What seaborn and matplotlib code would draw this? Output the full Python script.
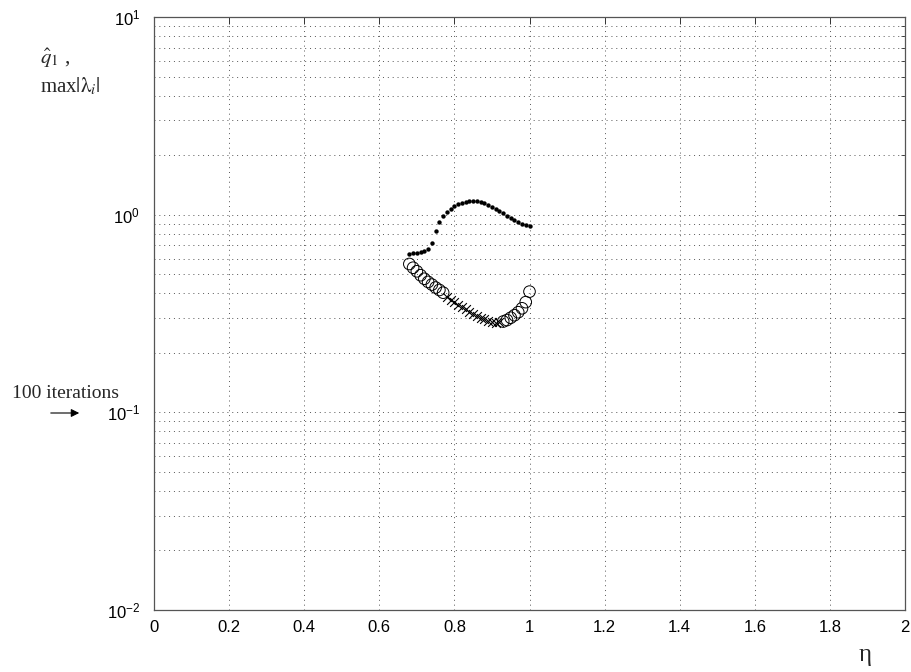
import numpy as np
import pandas as pd
import seaborn as sns
import matplotlib.pyplot as plt

# eta axis (step 0.01)
eta = np.round(np.arange(0.68, 1.0001, 0.01), 2)

# upper curve: max|lambda_i| (small filled dots)
lam_max = [0.632, 0.638, 0.643, 0.647, 0.655, 0.668, 0.716, 0.828, 0.914, 0.984,
           1.032, 1.064, 1.106, 1.132, 1.150, 1.164, 1.172, 1.172, 1.168, 1.155,
           1.142, 1.124, 1.097, 1.072, 1.044, 1.016, 0.989, 0.959, 0.937, 0.914,
           0.900, 0.887, 0.875]

# lower curve: q1 hat (circles / crosses = 100 iterations reached)
q1 = [0.563, 0.539, 0.517, 0.494, 0.474, 0.457, 0.443, 0.428, 0.416, 0.403,
      0.385, 0.370, 0.360, 0.351, 0.341, 0.332, 0.323, 0.316, 0.308, 0.301,
      0.296, 0.290, 0.285, 0.284, 0.285, 0.288, 0.293, 0.301, 0.310, 0.321,
      0.336, 0.361, 0.408]
q1_kind = ["o"] * 10 + ["x"] * 15 + ["o"] * 8

xticks = [0, 0.2, 0.4, 0.6, 0.8, 1, 1.2, 1.4, 1.6, 1.8, 2]
xtick_labels = ["0", "0.2", "0.4", "0.6", "0.8", "1", "1.2", "1.4", "1.6", "1.8", "2"]
yticks = [1e-2, 1e-1, 1e0, 1e1]
ytick_labels = [r"$\mathregular{10^{-2}}$", r"$\mathregular{10^{-1}}$",
                r"$\mathregular{10^{0}}$", r"$\mathregular{10^{1}}$"]

df_top = pd.DataFrame({"eta": eta, "val": lam_max})
df_low = pd.DataFrame({"eta": eta, "val": q1, "kind": q1_kind})

sns.set_theme(style="white")
plt.rcParams["font.family"] = ["Liberation Sans", "DejaVu Sans"]
plt.rcParams["mathtext.fontset"] = "stix"

fig = plt.figure(figsize=(9.11, 6.72), dpi=100)
ax = fig.add_axes([154 / 911, 1 - 610 / 672, 751 / 911, 593 / 672])

sns.scatterplot(data=df_top, x="eta", y="val", ax=ax, marker="o", s=10,
                color="black", edgecolor="black", linewidth=0, legend=False, zorder=3)
circ = df_low[df_low["kind"] == "o"]
cross = df_low[df_low["kind"] == "x"]
ax.scatter(circ["eta"], circ["val"], marker="o", s=70, facecolors="none",
           edgecolors="black", linewidths=0.7, zorder=3)
sns.scatterplot(data=cross, x="eta", y="val", ax=ax, marker="x", s=40,
                color="black", edgecolor="black", linewidth=0.8, legend=False, zorder=3)

ax.set_yscale("log")
ax.set_xlim(0, 2)
ax.set_ylim(1e-2, 1e1)
ax.set_xticks(xticks)
ax.set_xticklabels(xtick_labels)
ax.set_yticks(yticks)
ax.set_yticklabels(ytick_labels)
ax.set_xlabel("")
ax.set_ylabel("")
ax.tick_params(axis="both", which="both", direction="in", top=True, right=True,
               labelsize=12, colors="#333333", labelcolor="black")
ax.tick_params(axis="both", which="major", length=5, width=0.7)
ax.tick_params(axis="x", which="major", pad=7)
ax.tick_params(axis="y", which="major", pad=10)
ax.tick_params(axis="y", which="minor", length=3, width=0.6)
ax.grid(True, which="major", axis="x", linestyle=(0, (1, 4)), color="#555555", linewidth=0.7)
ax.grid(True, which="both", axis="y", linestyle=(0, (1, 4)), color="#555555", linewidth=0.7)
for sp in ax.spines.values():
    sp.set_color("#555555")
    sp.set_linewidth(0.9)

serif = ["Liberation Serif", "DejaVu Serif"]
fig.text(40 / 911, 1 - 58 / 672, r"$\hat{q}_1$ ,", family=serif, fontsize=15, va="center")
fig.text(40 / 911, 1 - 86 / 672, r"max$|\mathrm{\lambda}_i|$", family=serif, fontsize=15, va="center")
fig.text(865 / 911, 1 - 655 / 672, "η", family=serif, fontsize=18, ha="center", va="center")
fig.text(12 / 911, 1 - 393 / 672, "100 iterations", family=serif, fontsize=14, va="center")
ax.annotate("", xy=(82 / 911, 1 - 413 / 672), xytext=(48 / 911, 1 - 413 / 672),
            xycoords="figure fraction", textcoords="figure fraction",
            arrowprops=dict(arrowstyle="-|>", color="black", lw=0.8, mutation_scale=12))

fig.savefig("out.png", dpi=100)
